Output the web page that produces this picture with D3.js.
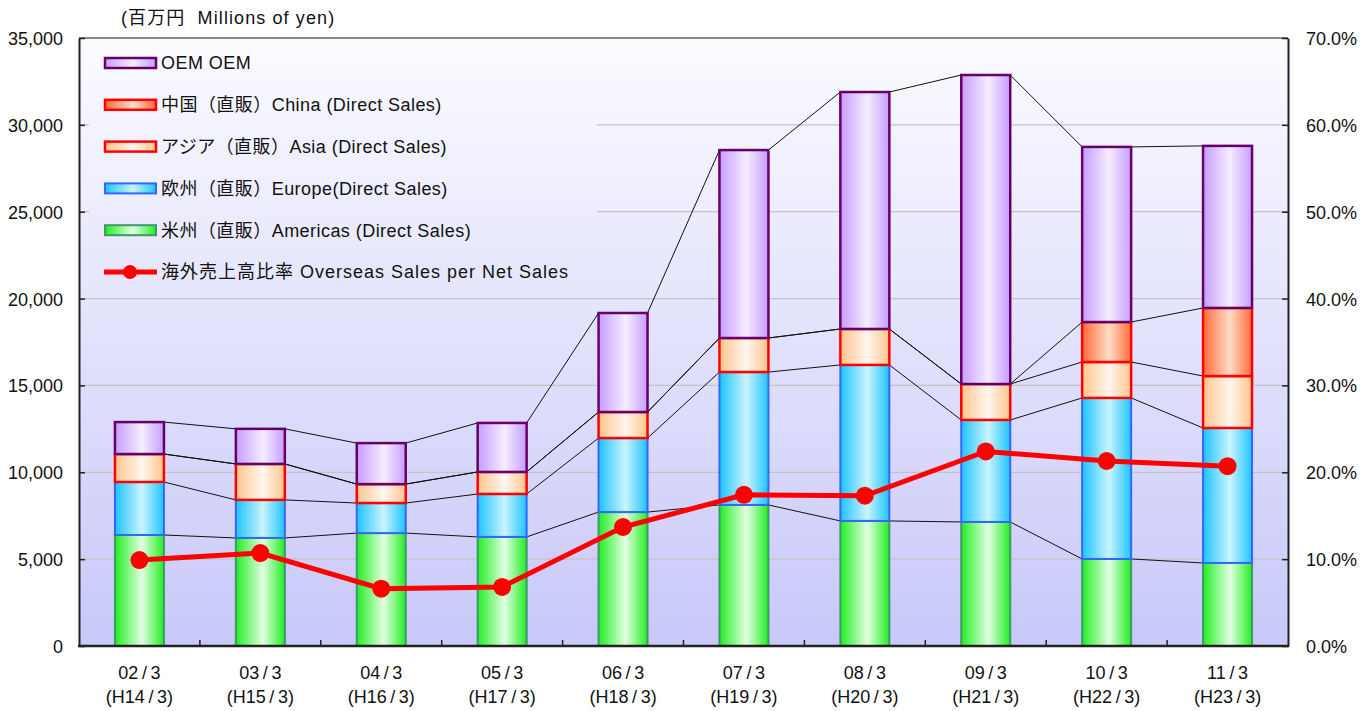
<!DOCTYPE html>
<html>
<head>
<meta charset="utf-8">
<script src="https://cdn.jsdelivr.net/npm/d3@7"></script>
<style>
  body { margin: 0; background: #fff; }
  text { font-family: "Liberation Sans", Arial, "Noto Sans CJK JP", sans-serif; fill: #111; }
</style>
</head>
<body>
<svg></svg>
<script>
const width = 1372;
const height = 711;

// data (millions of yen)
const years = ["02/3", "03/3", "04/3", "05/3", "06/3", "07/3", "08/3", "09/3", "10/3", "11/3"];
const heisei = ["(H14/3)", "(H15/3)", "(H16/3)", "(H17/3)", "(H18/3)", "(H19/3)", "(H20/3)", "(H21/3)", "(H22/3)", "(H23/3)"];
const americas = [6390, 6220, 6500, 6280, 7710, 8120, 7200, 7140, 5010, 4780];
const europe = [3050, 2190, 1730, 2470, 4260, 7650, 8980, 5870, 9270, 7770];
const asia = [1610, 2070, 1090, 1270, 1500, 1960, 2070, 2070, 2070, 2990];
const china = [0, 0, 0, 0, 0, 0, 0, 0, 2300, 3920];
const oem = [1840, 2020, 2360, 2820, 5700, 10820, 13640, 17790, 10080, 9330];
const overseasRatio = [9.9, 10.7, 6.6, 6.8, 13.7, 17.4, 17.3, 22.4, 21.3, 20.7];
const leftTicks = [0, 5000, 10000, 15000, 20000, 25000, 30000, 35000];
const rightTicks = [0, 10, 20, 30, 40, 50, 60, 70];

const seriesNames = [
  "米州（直販）Americas (Direct Sales)",
  "欧州（直販）Europe(Direct Sales)",
  "アジア（直販）Asia (Direct Sales)",
  "中国（直販）China (Direct Sales)",
  "OEM OEM"
];
const lineName = "海外売上高比率 Overseas Sales per Net Sales";

const styles = [
  { edge: "#22ee22", mid: "#e2ffe2", stroke: "#3a9a6a", sw: 2 },
  { edge: "#1ec4ff", mid: "#c9f4ff", stroke: "#3366ff", sw: 2 },
  { edge: "#ffc48c", mid: "#fff6ee", stroke: "#ff0000", sw: 2.5 },
  { edge: "#ff6a3a", mid: "#ffdcc6", stroke: "#ff0000", sw: 2.5 },
  { edge: "#c79cff", mid: "#f5edff", stroke: "#660066", sw: 2.5 }
];

const margin = { left: 79, right: 84, top: 38, bottom: 65 };
const plotW = width - margin.left - margin.right;
const plotH = height - margin.top - margin.bottom;

const svg = d3.select("svg").attr("width", width).attr("height", height);
const defs = svg.append("defs");

// background gradient in plot user space so the legend box blends in
const bg = defs.append("linearGradient").attr("id", "bg")
  .attr("gradientUnits", "userSpaceOnUse")
  .attr("x1", 0).attr("y1", 0).attr("x2", 0).attr("y2", plotH);
bg.append("stop").attr("offset", 0).attr("stop-color", "#fbfbff");
bg.append("stop").attr("offset", 1).attr("stop-color", "#c8c8f9");

styles.forEach((s, i) => {
  const lg = defs.append("linearGradient").attr("id", "grad" + i)
    .attr("x1", 0).attr("y1", 0).attr("x2", 1).attr("y2", 0);
  lg.append("stop").attr("offset", 0).attr("stop-color", s.edge);
  lg.append("stop").attr("offset", 0.55).attr("stop-color", s.mid);
  lg.append("stop").attr("offset", 1).attr("stop-color", s.edge);
});

const g = svg.append("g").attr("transform", `translate(${margin.left},${margin.top})`);

const x = d3.scaleBand().domain(years).range([0, plotW])
  .paddingInner(0.595).paddingOuter(0.2975);
const y = d3.scaleLinear().domain([0, 35000]).range([plotH, 0]);
const y2 = d3.scaleLinear().domain([0, 70]).range([plotH, 0]);

// plot background
g.append("rect").attr("width", plotW).attr("height", plotH).attr("fill", "url(#bg)");

// gridlines
g.append("g").selectAll("line")
  .data(leftTicks.filter(d => d > 0 && d < 35000))
  .enter().append("line")
  .attr("x1", 0).attr("x2", plotW)
  .attr("y1", d => y(d)).attr("y2", d => y(d))
  .attr("stroke", "#c4c4c4").attr("stroke-width", 1.2);

// top border
g.append("line").attr("x1", 0).attr("x2", plotW).attr("y1", 0).attr("y2", 0)
  .attr("stroke", "#888").attr("stroke-width", 2);

// legend background (covers gridlines)
g.append("rect").attr("x", 10).attr("y", 8).attr("width", 508).attr("height", 250)
  .attr("fill", "url(#bg)");
const legend = g.append("g").attr("transform", "translate(10,8)");

// stack
const table = years.map((yr, i) => ({
  year: yr, s0: americas[i], s1: europe[i], s2: asia[i], s3: china[i], s4: oem[i]
}));
const stack = d3.stack().keys(["s0", "s1", "s2", "s3", "s4"])(table);

// series lines
stack.forEach(layer => {
  const segs = d3.pairs(layer);
  g.append("g").selectAll("line").data(segs).enter().append("line")
    .attr("x1", d => x(d[0].data.year) + x.bandwidth())
    .attr("y1", d => y(d[0][1]))
    .attr("x2", d => x(d[1].data.year))
    .attr("y2", d => y(d[1][1]))
    .attr("stroke", "#111").attr("stroke-width", 1);
});

// bars
stack.forEach((layer, k) => {
  g.append("g").selectAll("rect")
    .data(layer.filter(d => d[1] - d[0] > 0))
    .enter().append("rect")
    .attr("x", d => x(d.data.year))
    .attr("y", d => y(d[1]))
    .attr("width", x.bandwidth())
    .attr("height", d => y(d[0]) - y(d[1]))
    .attr("fill", `url(#grad${k})`)
    .attr("stroke", styles[k].stroke)
    .attr("stroke-width", styles[k].sw);
});

// ratio line
const line = d3.line()
  .x((d, i) => x(years[i]) + x.bandwidth() / 2)
  .y(d => y2(d));
g.append("path").datum(overseasRatio)
  .attr("d", line).attr("fill", "none")
  .attr("stroke", "#ff0000").attr("stroke-width", 5);
g.append("g").selectAll("circle").data(overseasRatio).enter().append("circle")
  .attr("cx", (d, i) => x(years[i]) + x.bandwidth() / 2)
  .attr("cy", d => y2(d))
  .attr("r", 9).attr("fill", "#ff0000");

// axes
const axL = g.append("g")
  .call(d3.axisLeft(y).tickValues(leftTicks).tickSizeInner(-6).tickSizeOuter(0).tickPadding(16)
    .tickFormat(d3.format(",")));
const axR = g.append("g").attr("transform", `translate(${plotW},0)`)
  .call(d3.axisRight(y2).tickValues(rightTicks).tickSizeInner(-6).tickSizeOuter(0).tickPadding(18)
    .tickFormat(d => d.toFixed(1) + "%"));
[axL, axR].forEach(ax => {
  ax.select(".domain").attr("stroke", "#222").attr("stroke-width", 2);
  ax.selectAll(".tick line").attr("stroke", "#222").attr("stroke-width", 1.5);
  ax.selectAll("text").style("font-size", "18px").attr("fill", "#111").attr("dy", "0.36em");
});

// bottom axis: ticks on category boundaries
const bounds = d3.range(1, years.length).map(i => x.step() * i);
g.append("g").selectAll("line").data(bounds).enter().append("line")
  .attr("x1", d => d).attr("x2", d => d)
  .attr("y1", plotH).attr("y2", plotH - 6)
  .attr("stroke", "#222").attr("stroke-width", 1.5);
g.append("line").attr("x1", -1).attr("x2", plotW + 1).attr("y1", plotH).attr("y2", plotH)
  .attr("stroke", "#222").attr("stroke-width", 2.5);

const spaced = s => s.replace("/", "\u2009/\u2009");
const xl = g.append("g").selectAll("text").data(years).enter().append("text")
  .attr("text-anchor", "middle")
  .attr("transform", d => `translate(${x(d) + x.bandwidth() / 2},${plotH})`)
  .style("font-size", "18px");
xl.append("tspan").attr("x", 0).attr("y", 33).text(d => spaced(d));
xl.append("tspan").attr("x", 0).attr("y", 57).text((d, i) => spaced(heisei[i]));

// unit title
svg.append("text").attr("x", 121).attr("y", 24)
  .style("font-size", "18px").style("white-space", "pre").style("letter-spacing", "1.1px")
  .text("(百万円  Millions of yen)");

// legend entries (top to bottom: OEM .. Americas, then line)
const legOrder = [4, 3, 2, 1, 0];
const legItems = legend.selectAll("g.item").data(legOrder).enter().append("g")
  .attr("class", "item")
  .attr("transform", (d, i) => `translate(0,${17 + i * 41.8})`);
legItems.append("rect")
  .attr("x", 16).attr("y", -5).attr("width", 51).attr("height", 10)
  .attr("fill", d => `url(#grad${d})`)
  .attr("stroke", d => styles[d].stroke)
  .attr("stroke-width", d => styles[d].sw);
legItems.append("text")
  .attr("x", 72).attr("y", 0).attr("dy", "0.36em")
  .style("font-size", "18px").style("letter-spacing", "0.45px")
  .text(d => seriesNames[d]);

const legLine = legend.append("g").attr("transform", `translate(0,${17 + 5 * 41.8})`);
legLine.append("line").attr("x1", 15).attr("x2", 68).attr("y1", 0).attr("y2", 0)
  .attr("stroke", "#ff0000").attr("stroke-width", 5);
legLine.append("circle").attr("cx", 41).attr("cy", 0).attr("r", 7).attr("fill", "#ff0000");
legLine.append("text").attr("x", 72).attr("y", 0).attr("dy", "0.36em")
  .style("font-size", "18px").style("letter-spacing", "1px").text(lineName);
</script>
</body>
</html>
